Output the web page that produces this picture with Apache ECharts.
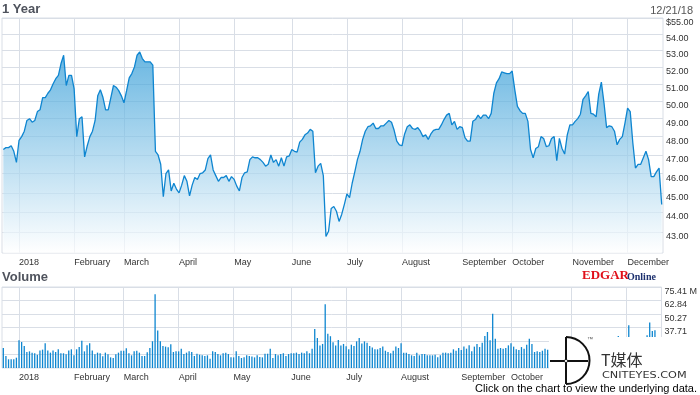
<!DOCTYPE html>
<html><head><meta charset="utf-8">
<script src="https://cdn.jsdelivr.net/npm/echarts@6/dist/echarts.min.js"></script>
<style>html,body{margin:0;padding:0;background:#fff}#c{width:700px;height:395px}</style>
</head><body><div id="c"></div>
<script>
// Daily closing prices, Dec 21 2017 .. Dec 21 2018 (252 trading days)
const prices = [
47.3,47.4,47.4,47.5,47.2,46.6,47.8,48.0,48.3,48.9,
49.0,48.8,48.9,49.4,49.5,50.2,50.2,50.45,50.65,51.0,
51.3,51.5,52.2,52.7,50.9,51.5,51.5,50.7,48.0,49.0,
49.1,46.9,47.5,48.0,48.3,48.9,50.3,50.65,50.2,49.5,
49.5,50.2,50.9,50.8,50.6,50.3,49.9,50.6,51.35,51.6,
52.0,52.7,52.9,52.5,52.3,52.3,52.3,52.1,47.2,47.0,
46.5,44.8,46.0,46.2,45.1,45.5,45.2,45.0,45.4,45.9,
45.6,44.85,45.4,45.8,45.7,46.0,46.05,46.2,46.8,47.0,
46.2,45.9,45.6,45.8,45.8,45.9,45.6,45.85,45.7,45.35,
45.1,45.8,46.05,46.1,46.75,46.9,46.85,46.85,46.75,46.6,
46.4,46.5,47.0,46.6,46.75,46.4,46.85,46.4,46.9,46.95,
47.3,47.2,47.15,47.7,47.85,48.1,48.2,48.4,48.3,46.05,
46.4,46.55,45.9,42.8,43.06,44.2,44.3,44.06,43.55,43.9,
44.4,44.95,44.75,45.5,46.1,46.75,47.2,47.85,48.3,48.55,
48.6,48.75,48.45,48.45,48.6,48.6,48.75,48.9,48.8,48.35,
47.75,47.55,47.5,48.15,48.55,48.65,48.45,48.4,48.5,48.3,
48.0,48.1,47.85,48.15,48.35,48.4,48.4,48.65,48.95,49.2,
49.3,48.65,48.85,48.4,48.55,48.5,47.95,47.75,47.75,48.85,
48.95,49.2,49.0,49.2,49.2,49.0,49.3,50.45,51.05,51.3,
51.7,51.65,51.6,51.6,51.75,50.65,49.7,49.45,49.3,49.3,
48.85,47.3,46.85,47.35,47.45,48.0,47.9,47.45,47.5,47.9,
48.0,46.7,47.9,47.35,47.05,48.1,48.65,48.65,48.85,49.0,
49.25,50.1,50.3,50.55,49.3,49.25,49.1,50.4,51.1,49.9,
48.5,48.6,48.55,48.3,47.55,47.85,48.0,48.75,49.6,49.4,
47.65,46.3,46.5,46.5,46.85,47.2,46.75,45.85,45.85,46.1,
46.3,44.4
];
// Daily volume, millions of shares
const volumes = [
18.6,11.2,8.1,8.1,8.1,9.6,25.8,24.2,20.5,14.9,
15.5,14.3,13.7,12.4,16.4,17.1,23.0,16.4,14.3,16.4,
14.9,17.4,13.7,13.7,12.7,16.4,17.4,11.8,17.4,19.5,
25.4,15.5,21.1,23.0,16.4,12.7,14.3,13.7,10.9,14.3,
12.7,9.9,9.3,12.7,14.3,16.1,16.1,18.3,13.7,11.8,
15.5,16.1,14.3,11.2,11.2,14.6,18.7,24.9,68.6,34.9,
24.9,20.5,19.9,19.3,22.0,14.9,15.5,15.5,18.0,13.0,
14.3,15.5,14.9,11.2,13.3,12.4,11.8,11.2,11.8,8.7,
15.5,14.9,13.0,11.8,13.7,14.3,13.0,9.9,9.9,15.5,
11.2,9.3,9.9,11.8,11.2,10.6,9.9,11.8,10.2,9.9,
13.3,13.3,18.0,9.3,13.0,11.8,13.0,13.7,11.2,13.0,
13.7,13.7,14.3,13.0,14.3,13.7,15.5,13.7,18.0,36.3,
28.0,20.9,22.4,59.3,31.8,29.6,24.0,20.9,26.0,20.9,
22.4,20.2,17.4,21.7,20.5,24.8,27.9,22.7,24.8,23.6,
20.5,19.2,17.4,17.4,18.6,19.9,16.1,14.9,13.7,16.1,
19.9,18.6,23.0,14.3,14.3,13.0,11.8,11.2,14.3,11.8,
13.0,13.0,11.8,11.8,11.8,12.4,9.9,11.8,14.3,14.3,
13.7,14.3,17.4,16.1,18.6,16.8,19.9,18.0,21.1,15.5,
19.9,22.3,19.5,23.6,29.8,33.5,25.8,50.6,27.3,18.0,
18.6,18.0,18.6,21.1,23.0,19.9,17.4,16.8,19.5,18.0,
21.7,27.3,22.3,14.9,15.5,14.9,16.1,18.0,17.0,19.0,
16.0,22.0,18.0,17.0,20.0,16.0,15.0,18.0,17.0,19.0,
21.0,24.0,20.0,22.0,26.0,19.0,21.0,23.0,25.0,20.0,
24.0,19.0,18.0,17.0,22.0,29.8,21.0,19.0,22.0,39.8,
27.0,26.0,21.0,19.0,18.0,20.0,30.4,42.3,34.5,35.1,
24.0,27.0
];
const priceTicks = [43,44,45,46,47,48,49,50,51,52,53,54,55];
const volumeTicks = [12.57,25.14,37.71,50.27,62.84,75.41];
const monthLabels = ['2018','February','March','April','May','June','July','August','September','October','November','December'];
const holidays = ['2017-12-25','2018-01-01','2018-01-15','2018-02-19','2018-03-30','2018-05-28','2018-07-04','2018-09-03','2018-11-22','2018-12-05'];

function tradingDays(){
  const out=[]; let t=Date.UTC(2017,11,21); const end=Date.UTC(2018,11,21);
  while(t<=end){ const d=new Date(t); const wd=d.getUTCDay(); const s=d.toISOString().slice(0,10);
    if(wd!==0&&wd!==6&&holidays.indexOf(s)<0) out.push(s); t+=86400000; }
  return out;
}
const dates = tradingDays();
function isMonthStart(i){ return i>0 && dates[i].slice(5,7)!==dates[i-1].slice(5,7); }
function monthName(v){ return monthLabels[parseInt(v.slice(5,7),10)-1]; }

const GRID='#d9dee6', LBL='#333333', TITLE='#4f535d';
const FONT='"Liberation Sans", Arial, sans-serif';

function xAxisFor(idx){
  return {type:'category', gridIndex:idx, data:dates, boundaryGap:true,
    axisLine:{show:false}, axisTick:{show:false},
    splitLine:{show:true, interval:isMonthStart, alignWithLabel:true, lineStyle:{color:GRID,width:1}},
    axisLabel:{interval:isMonthStart, formatter:monthName, align:'left', color:LBL, fontSize:9, fontFamily:FONT, margin:5}};
}

const chart = echarts.init(document.getElementById('c'), null, {renderer:'canvas'});
chart.setOption({
  animation:false,
  backgroundColor:'#fff',
  grid:[
    {left:2, top:18, width:661, height:235, show:true, borderColor:GRID, borderWidth:1},
    {left:2, top:287, width:661, height:81, show:true, borderColor:GRID, borderWidth:1}
  ],
  xAxis:[xAxisFor(0), xAxisFor(1)],
  yAxis:[
    {type:'log', gridIndex:0, position:'right', min:42, max:55,
     axisLine:{show:false}, axisTick:{show:false, customValues:priceTicks},
     splitLine:{show:true, lineStyle:{color:GRID,width:1}},
     axisLabel:{customValues:priceTicks, verticalAlign:'top', margin:3, color:LBL, fontSize:9, fontFamily:FONT,
       formatter:v=>(Math.round(v)===55?'$':'')+Number(v).toFixed(2)}},
    {type:'value', gridIndex:1, position:'right', min:0, max:75.41,
     axisLine:{show:false}, axisTick:{show:false, customValues:volumeTicks},
     splitLine:{show:true, lineStyle:{color:GRID,width:1}},
     axisLabel:{customValues:volumeTicks, verticalAlign:'top', margin:3, color:LBL, fontSize:9, fontFamily:FONT,
       formatter:v=>Number(v).toFixed(2)+(Math.abs(v-75.41)<0.01?' M':'')}}
  ],
  series:[
    {type:'line', xAxisIndex:0, yAxisIndex:0, data:prices, symbol:'none', smooth:false,
     lineStyle:{color:'#0e85d0', width:1.3},
     areaStyle:{color:new echarts.graphic.LinearGradient(0,0,0,1,[{offset:0,color:'#2a98d5'},{offset:1,color:'#ffffff'}])}},
    {type:'bar', xAxisIndex:1, yAxisIndex:1, data:volumes, barWidth:1.3, itemStyle:{color:'#0e86d0'}}
  ],
  graphic:[
    {type:'text', x:2, y:3, style:{text:'1 Year', fontSize:13, fontWeight:'bold', fontFamily:FONT, fill:TITLE}},
    {type:'text', x:2, y:271, style:{text:'Volume', fontSize:13, fontWeight:'bold', fontFamily:FONT, fill:TITLE}},
    {type:'text', x:693, y:5, style:{text:'12/21/18', align:'right', fontSize:11, fontFamily:FONT, fill:'#555'}},
    {type:'text', x:582, y:282, style:{text:'EDGAR', verticalAlign:'bottom', fontSize:13, fontWeight:'bold', fontFamily:'"Liberation Serif", serif', fill:'#e0101a'}},
    {type:'text', x:627, y:282, style:{text:'Online', verticalAlign:'bottom', fontSize:10, fontWeight:'bold', fontFamily:'"Liberation Serif", serif', fill:'#1b2f6e'}},
    {type:'rect', z:100, shape:{x:549,y:337,width:151,height:58}, style:{fill:'#ffffff'}},
    {type:'line', z:101, shape:{x1:566,y1:337,x2:566,y2:384}, style:{stroke:'#111',lineWidth:2}},
    {type:'line', z:101, shape:{x1:550,y1:361,x2:588,y2:361}, style:{stroke:'#111',lineWidth:2}},
    {type:'arc', z:101, shape:{cx:566,cy:360.5,r:23.5,startAngle:-Math.PI/2,endAngle:Math.PI/2}, style:{stroke:'#111',lineWidth:2,fill:null}},
    {type:'circle', z:102, shape:{cx:566,cy:361,r:1.6}, style:{fill:'#fff',stroke:'#111',lineWidth:0.8}},
    {type:'text', z:101, x:587, y:336, style:{text:'™', fontSize:6, fontFamily:FONT, fill:'#555'}},
    {type:'text', z:101, x:601, y:360, style:{text:'T媒体', verticalAlign:'middle', fontSize:16, fontFamily:'"Noto Sans CJK SC", sans-serif', fill:'#333'}},
    {type:'text', z:101, x:602, y:375.5, scaleX:1.25, style:{text:'CNITEYES.COM', verticalAlign:'middle', fontSize:9, fontFamily:'"DejaVu Sans", sans-serif', fill:'#333'}},
    {type:'text', z:103, x:697, y:388.5, style:{text:'Click on the chart to view the underlying data.', align:'right', verticalAlign:'middle', fontSize:11, fontFamily:FONT, fill:'#000'}}
  ]
});
</script></body></html>
